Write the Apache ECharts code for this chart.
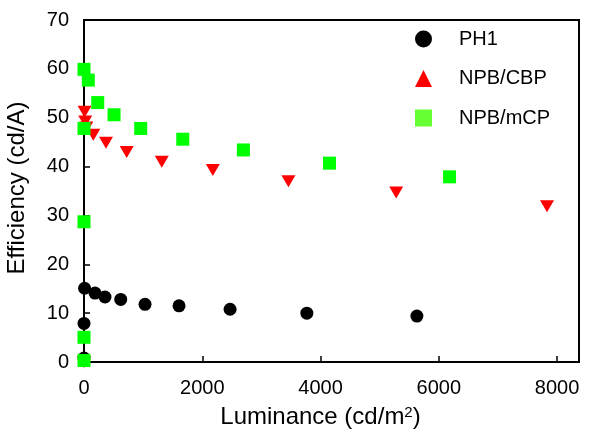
<!DOCTYPE html>
<html>
<head>
<meta charset="utf-8">
<style>html,body{margin:0;padding:0;background:#fff;}#chart{width:606px;height:433px;}</style>
<script src="https://cdn.jsdelivr.net/npm/echarts@6/dist/echarts.min.js"></script>
</head>
<body>
<div id="chart"></div>
<script>
// Data
const seriesNames = ['PH1', 'NPB/CBP', 'NPB/mCP'];
const xTicks = [0, 2000, 4000, 6000, 8000];
const yTicks = [0, 10, 20, 30, 40, 50, 60, 70];

const ph1X = [0, 0, 10, 186, 355, 621, 1032, 1607, 2470, 3768, 5629];
const ph1Y = [0.8, 7.9, 15.1, 14.1, 13.3, 12.8, 11.8, 11.5, 10.8, 10.0, 9.4];

const cbpX = [0, 10, 20, 40, 157, 372, 722, 1315, 2178, 3457, 5279, 7829];
const cbpY = [0, 51.2, 49.2, 48.0, 46.5, 44.9, 43.0, 41.0, 39.3, 37.0, 34.7, 31.9];

const mcpX = [0, 0, 0, 0, 0, 73, 232, 508, 959, 1670, 2695, 4151, 6181];
const mcpY = [0.3, 5.05, 28.7, 47.8, 59.9, 57.7, 53.1, 50.6, 47.8, 45.6, 43.4, 40.7, 37.9];

const zip = (xs, ys) => xs.map((x, i) => [x, ys[i]]);

const chart = echarts.init(document.getElementById('chart'));
const font = 'Liberation Sans, Arial, sans-serif';
chart.setOption({
  animation: false,
  backgroundColor: '#fff',
  grid: { left: 84, right: 27, top: 20, bottom: 71, containLabel: false, outerBoundsMode: 'none',
    show: true, borderColor: '#000', borderWidth: 2, backgroundColor: 'transparent' },
  legend: {
    orient: 'vertical',
    left: 410,
    top: 24,
    padding: 5,
    itemWidth: 17,
    itemHeight: 17,
    itemGap: 19.5,
    textStyle: { fontFamily: font, fontSize: 20, color: '#000', padding: [0, 0, 0, 22] },
    data: [
      { name: seriesNames[0], icon: 'circle', itemStyle: { color: '#000' } },
      { name: seriesNames[1], icon: 'triangle', symbolRotate: 0, itemStyle: { color: '#ff0000' } },
      { name: seriesNames[2], icon: 'rect', itemStyle: { color: '#66ff33' } }
    ]
  },
  xAxis: {
    type: 'value',
    min: xTicks[0],
    max: 8370,
    interval: 2000,
    name: 'Luminance (cd/m{sup|2})',
    nameLocation: 'middle',
    nameGap: 43,
    nameTextStyle: { fontFamily: font, fontSize: 24, color: '#000', padding: [0, 22, 0, 0],
      rich: { sup: { fontFamily: font, fontSize: 15, color: '#000', verticalAlign: 'top', padding: [0, 0, 10, 0] } } },
    axisLine: { show: true, lineStyle: { color: '#000', width: 2 } },
    axisTick: { show: true, inside: true, length: 6, lineStyle: { color: '#000', width: 1.5 } },
    axisLabel: { fontFamily: font, fontSize: 20, color: '#000', margin: 16,
      formatter: v => (xTicks.indexOf(v) >= 0 ? String(v) : '') },
    splitLine: { show: false }
  },
  yAxis: {
    type: 'value',
    min: yTicks[0],
    max: yTicks[yTicks.length - 1],
    interval: 10,
    name: 'Efficiency (cd/A)',
    nameLocation: 'middle',
    nameGap: 55,
    nameTextStyle: { fontFamily: font, fontSize: 24, color: '#000', padding: [0, 0, 0, 6] },
    axisLine: { show: true, lineStyle: { color: '#000', width: 2 } },
    axisTick: { show: true, inside: true, length: 6, lineStyle: { color: '#000', width: 1.5 } },
    axisLabel: { fontFamily: font, fontSize: 20, color: '#000', margin: 15 },
    splitLine: { show: false }
  },
  series: [
    { name: seriesNames[0], type: 'scatter', symbol: 'circle', symbolSize: 13,
      itemStyle: { color: '#000', opacity: 1 }, data: zip(ph1X, ph1Y), z: 2 },
    { name: seriesNames[1], type: 'scatter', symbol: 'triangle', symbolRotate: 180, symbolSize: [14, 12],
      itemStyle: { color: '#ff0000', opacity: 1 }, data: zip(cbpX, cbpY), z: 3 },
    { name: seriesNames[2], type: 'scatter', symbol: 'rect', symbolSize: 13,
      itemStyle: { color: '#00ff00', opacity: 1 }, data: zip(mcpX, mcpY), z: 4 }
  ]
});
</script>
</body>
</html>
